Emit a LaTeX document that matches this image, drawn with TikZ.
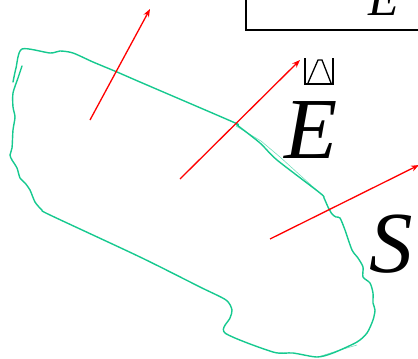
\documentclass[tikz,border=0pt]{standalone}
\usepackage{fontspec}
\setmainfont{Liberation Serif}
\usetikzlibrary{arrows.meta}
\definecolor{curvegreen}{RGB}{22,201,143}
\tikzset{
  outline/.style={draw=curvegreen, line width=1.4pt, line join=round, line cap=round},
  faint/.style={draw=curvegreen, line width=0.6pt, opacity=0.6},
  vec/.style={draw=red, line width=1.3pt, -{Stealth[length=8pt,width=6pt]}},
  sym/.style={inner sep=0pt, anchor=base, font=\itshape\fontsize{87}{90}\selectfont},
  glyph/.style={draw=black, line width=1.5pt},
}
\begin{document}
\begin{tikzpicture}[x=1pt,y=-1pt]
\useasboundingbox (0,0) rectangle (418,359);
% frame at top right
\draw[line width=1.5pt] (246,0) -- (246,30) -- (418,30);
\node[inner sep=0pt, anchor=base, font=\itshape\fontsize{50}{52}\selectfont] (etop) at (384,15) {E};
% outline
\draw[outline] plot[smooth, tension=0.45] coordinates {
 (22,66) (18,78) (13,93) (13,107) (15,117) (13,130) (12,148) (10,155) (12,160)
 (17,168) (20,178) (25,183) (30,190) (35,202) (42,210) (50,215) (140,257)
 (200,287) (226,300) (232,310) (230,318) (225,333) (273,352) (293,353)
 (317,357) (333,353) (357,342) (367,333) (373,320) (375,310) (373,303)
 (373,293) (370,283) (363,277) (363,267) (358,258) (352,250) (345,230)
 (340,218) (336,217) (332,214) (328,207) (324,198) (320,193) (277,160)
 (260,143) (237,125) (233,122) (140,82) (117,72) (93,62) (73,53) (60,51)
 (50,53) (22,49) (16,68) (13,82)};
\draw[faint] (236,126) -- (261,141) -- (280,157) -- (322,195);
\draw[faint] (318,357) -- (340,350) -- (357,345);
% arrows
\coordinate (a1) at (90,120); \coordinate (b1) at (150,9);
\coordinate (a2) at (180,179); \coordinate (b2) at (300,60);
\coordinate (a3) at (270,239); \coordinate (b3) at (419,165);
\draw[vec] (a1) -- (b1);
\draw[vec] (a2) -- (b2);
\draw[vec] (a3) -- (b3);
% labels
\node[sym] (e) at (311,158) {E};
\node[sym] (s) at (391,272) {S};
% missing-glyph mark above E
\draw[glyph] (305,58) -- (305,84) -- (333,84) -- (333,58);
\draw[line width=1.3pt] (308,83) -- (318,60) -- (322,60) -- (331,83);
\end{tikzpicture}
\end{document}
